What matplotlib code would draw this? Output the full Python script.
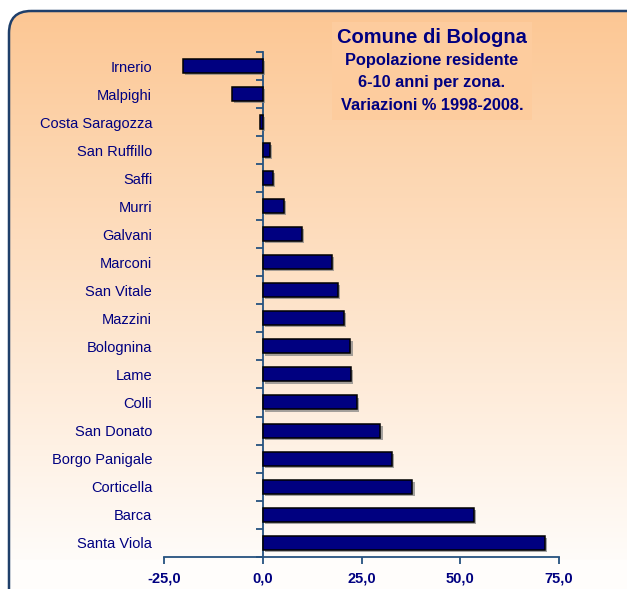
import matplotlib
matplotlib.use('Agg')
import matplotlib.pyplot as plt
import numpy as np
from matplotlib.patches import FancyBboxPatch, Rectangle
import matplotlib.patheffects as pe

zones = ['Irnerio', 'Malpighi', 'Costa Saragozza', 'San Ruffillo', 'Saffi', 'Murri',
         'Galvani', 'Marconi', 'San Vitale', 'Mazzini', 'Bolognina', 'Lame', 'Colli',
         'San Donato', 'Borgo Panigale', 'Corticella', 'Barca', 'Santa Viola']
variation = [-20.3, -7.8, -0.7, 1.9, 2.7, 5.4, 10.0, 17.5, 19.0, 20.6, 22.2, 22.4,
             23.9, 29.8, 32.8, 37.9, 53.5, 71.4]
xticks = [-25, 0, 25, 50, 75]
xtick_labels = ['-25,0', '0,0', '25,0', '50,0', '75,0']
title = 'Comune di Bologna'
subtitle = ['Popolazione residente', '6-10 anni per zona.', 'Variazioni % 1998-2008.']

plt.rcParams['font.family'] = ['Liberation Sans', 'DejaVu Sans']

NAVY = '#000080'
AXC = '#25527F'
W, H = 627, 589
fig = plt.figure(figsize=(W / 100, H / 100), dpi=100)
fig.patch.set_facecolor('white')

# background with rounded frame and gradient
bg = fig.add_axes([0, 0, 1, 1], zorder=0)
bg.set_xlim(0, W)
bg.set_ylim(H, 0)
bg.axis('off')
frame = FancyBboxPatch((9, 11), W + 40, H + 40,
                       boxstyle='round,pad=0,rounding_size=22',
                       facecolor='none', edgecolor='#1F3F6A', lw=1.8, zorder=3)
top = np.array([252, 199, 148]) / 255
bot = np.array([255, 253, 251]) / 255
t = np.linspace(0, 1, 512)[:, None]
grad = (top * (1 - t) + bot * t)[:, None, :]
im = bg.imshow(grad, extent=[9, W + 49, 570, 11], aspect='auto', zorder=1,
               interpolation='bilinear')
clip = FancyBboxPatch((9, 11), W + 40, H + 40,
                      boxstyle='round,pad=0,rounding_size=22',
                      facecolor='none', edgecolor='none', transform=bg.transData)
bg.add_patch(clip)
im.set_clip_path(clip)
bg.add_patch(Rectangle((9, 560), W, 40, facecolor=tuple(bot), edgecolor='none', zorder=1,
                       clip_path=clip))
bg.add_patch(frame)

# title box
bg.add_patch(Rectangle((332, 22), 200, 98, facecolor='#FDCC9E', edgecolor='none', zorder=2))
bg.text(432, 43, title, ha='center', va='baseline', fontsize=14.5, fontweight='bold',
        color=NAVY, zorder=4)
for s, yb in zip(subtitle, [65, 87, 110]):
    bg.text(432, yb, s, ha='center', va='baseline', fontsize=11.8, fontweight='bold',
            color=NAVY, zorder=4)

# main axes
left, right, top_px, bot_px = 164, 559, 52, 556.7
ax = fig.add_axes([left / W, 1 - bot_px / H, (right - left) / W, (bot_px - top_px) / H],
                  zorder=2)
ax.patch.set_alpha(0)
y = np.arange(len(zones))
ax.barh(y, variation, height=0.5, color=NAVY, edgecolor='black', lw=1.1, zorder=3,
        path_effects=[pe.SimplePatchShadow(offset=(1.5, -1.5), shadow_rgbFace='gray',
                                           alpha=0.7), pe.Normal()])
ax.set_xlim(-25, 75)
ax.set_ylim(len(zones) - 0.5, -0.5)
for sp in ['top', 'right', 'left']:
    ax.spines[sp].set_visible(False)
ax.spines['bottom'].set_color(AXC)
ax.spines['bottom'].set_linewidth(1.3)
ax.set_xticks(xticks)
ax.set_xticklabels(xtick_labels)
ax.tick_params(axis='x', direction='out', length=5, width=1.3, color=AXC, pad=6,
               labelsize=10.5, labelcolor=NAVY)
for lab in ax.get_xticklabels():
    lab.set_fontweight('bold')
ax.set_yticks(y)
ax.set_yticklabels(zones)
ax.tick_params(axis='y', length=0, pad=8.5, labelsize=10.5, labelcolor=NAVY)

sec = ax.secondary_yaxis(0.25)
sec.spines['left'].set_color(AXC)
sec.spines['left'].set_linewidth(1.3)
sec.set_yticks(np.arange(-0.5, len(zones), 1.0))
sec.set_yticklabels([])
sec.tick_params(axis='y', direction='out', length=5, width=1.3, color=AXC)

fig.savefig('out.png', dpi=100)
